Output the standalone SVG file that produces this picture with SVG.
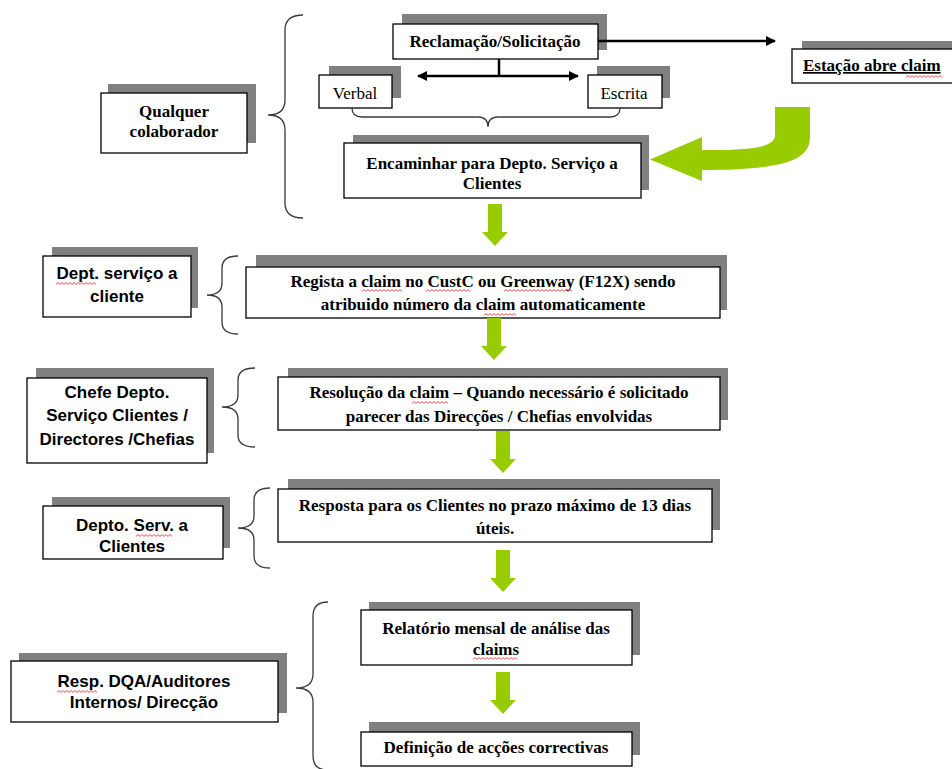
<svg xmlns="http://www.w3.org/2000/svg" width="952" height="769" viewBox="0 0 952 769">
  <style>
    .box { fill: #ffffff; stroke: #000000; stroke-width: 1.3; }
    .shadow { fill: #808080; stroke: none; }
    .serif { font-family: "Liberation Serif", "Times New Roman", serif; font-size: 17px; font-weight: bold; fill: #000000; text-anchor: middle; }
    .serif.plain { font-weight: normal; }
    .sans { font-family: "Liberation Sans", Arial, sans-serif; font-size: 17px; font-weight: bold; fill: #000000; text-anchor: middle; }
    .brace { fill: none; stroke: #3a3a3a; stroke-width: 1.3; }
    .line { fill: none; stroke: #000000; stroke-width: 2.5; }
    .green { fill: #99cc00; stroke: none; }
    .wavy { fill: url(#wave); }
  </style>
  <defs>
    <marker id="head" viewBox="0 0 10 10" refX="9" refY="5" markerWidth="4" markerHeight="4" orient="auto-start-reverse">
      <path d="M0,0 L10,5 L0,10 Z" fill="#000000"/>
    </marker>
    <!-- block arrow pointing down, origin at top centre -->
    <path id="down" d="M-7,0 L7,0 L7,28 L13,28 L0,42 L-13,28 L-7,28 Z"/>
    <!-- red spell-check wave -->
    <pattern id="wave" patternUnits="userSpaceOnUse" width="4" height="3">
      <polyline points="0,2.4 2,0.6 4,2.4" fill="none" stroke="#e02020" stroke-width="0.8"/>
    </pattern>
  </defs>

  <!-- role boxes (left column) -->
  <g id="qualquer">
    <rect class="shadow" x="108" y="84" width="148" height="59"/>
    <rect class="box" x="101" y="93" width="146" height="60"/>
    <text class="serif" x="174" y="117">Qualquer</text>
    <text class="serif" x="174" y="137">colaborador</text>
  </g>
  <g id="dept-servico">
    <rect class="shadow" x="52" y="247" width="146" height="61"/>
    <rect class="box" x="43" y="256" width="148" height="61"/>
    <text class="sans" x="117" y="279">Dept. serviço a</text>
    <text class="sans" x="117" y="302">cliente</text>
    <rect class="wavy" x="0" y="0" width="40" height="3" transform="translate(56,282)"/>
  </g>
  <g id="chefe">
    <rect class="shadow" x="36" y="368" width="178" height="85"/>
    <rect class="box" x="27" y="378" width="180" height="85"/>
    <text class="sans" x="117" y="398">Chefe Depto.</text>
    <text class="sans" x="117" y="421">Serviço Clientes /</text>
    <text class="sans" x="117" y="445">Directores /Chefias</text>
  </g>
  <g id="depto-serv">
    <rect class="shadow" x="52" y="497" width="178" height="51"/>
    <rect class="box" x="43" y="506" width="180" height="53"/>
    <text class="sans" x="132" y="531">Depto. Serv. a</text>
    <text class="sans" x="132" y="552">Clientes</text>
    <rect class="wavy" x="0" y="0" width="36" height="3" transform="translate(136,534)"/>
  </g>
  <g id="resp-dqa">
    <rect class="shadow" x="19" y="653" width="268" height="60"/>
    <rect class="box" x="11" y="661" width="267" height="61"/>
    <text class="sans" x="144" y="687">Resp. DQA/Auditores</text>
    <text class="sans" x="144" y="708">Internos/ Direcção</text>
    <rect class="wavy" x="0" y="0" width="40" height="3" transform="translate(57,690)"/>
  </g>

  <!-- process boxes -->
  <g id="reclamacao">
    <rect class="shadow" x="402" y="14" width="205" height="36"/>
    <rect class="box" x="393" y="24" width="205" height="35"/>
    <text class="serif" x="495" y="47">Reclamação/Solicitação</text>
  </g>
  <g id="verbal">
    <rect class="shadow" x="329" y="66" width="72" height="32"/>
    <rect class="box" x="319" y="75" width="73" height="33"/>
    <text class="serif plain" x="355" y="99">Verbal</text>
  </g>
  <g id="escrita">
    <rect class="shadow" x="597" y="66" width="73" height="32"/>
    <rect class="box" x="588" y="75" width="74" height="33"/>
    <text class="serif plain" x="624" y="99">Escrita</text>
  </g>
  <g id="estacao">
    <rect class="shadow" x="802" y="41" width="160" height="34"/>
    <rect class="box" x="792" y="49" width="170" height="34"/>
    <text class="serif" x="803" y="71" style="text-anchor:start" text-decoration="underline">Estação abre claim</text>
    <rect class="wavy" x="0" y="0" width="36" height="3" transform="translate(906,75)"/>
  </g>
  <g id="encaminhar">
    <rect class="shadow" x="353" y="135" width="296" height="55"/>
    <rect class="box" x="344" y="143" width="297" height="55"/>
    <text class="serif" x="492" y="169">Encaminhar para Depto. Serviço a</text>
    <text class="serif" x="492" y="189">Clientes</text>
  </g>
  <g id="regista">
    <rect class="shadow" x="256" y="255" width="471" height="55"/>
    <rect class="box" x="246" y="267" width="474" height="51"/>
    <text class="serif" x="483" y="287">Regista a claim no CustC ou Greenway (F12X) sendo</text>
    <text class="serif" x="483" y="310">atribuido número da claim automaticamente</text>
    <rect class="wavy" x="0" y="0" width="40" height="3" transform="translate(362,289)"/>
    <rect class="wavy" x="0" y="0" width="44" height="3" transform="translate(426,289)"/>
    <rect class="wavy" x="0" y="0" width="68" height="3" transform="translate(504,289)"/>
    <rect class="wavy" x="0" y="0" width="32" height="3" transform="translate(484,313)"/>
  </g>
  <g id="resolucao">
    <rect class="shadow" x="288" y="368" width="440" height="52"/>
    <rect class="box" x="278" y="377" width="442" height="53"/>
    <text class="serif" x="499" y="398">Resolução da claim – Quando necessário é solicitado</text>
    <text class="serif" x="499" y="422">parecer das Direcções / Chefias envolvidas</text>
    <rect class="wavy" x="0" y="0" width="36" height="3" transform="translate(412,401)"/>
  </g>
  <g id="resposta">
    <rect class="shadow" x="288" y="479" width="432" height="51"/>
    <rect class="box" x="278" y="489" width="434" height="53"/>
    <text class="serif" x="495" y="511">Resposta para os Clientes no prazo máximo de 13 dias</text>
    <text class="serif" x="495" y="534">úteis.</text>
  </g>
  <g id="relatorio">
    <rect class="shadow" x="369" y="602" width="271" height="53"/>
    <rect class="box" x="361" y="610" width="271" height="55"/>
    <text class="serif" x="496" y="634">Relatório mensal de análise das</text>
    <text class="serif" x="496" y="655">claims</text>
    <rect class="wavy" x="0" y="0" width="44" height="3" transform="translate(473,657)"/>
  </g>
  <g id="definicao">
    <rect class="shadow" x="369" y="722" width="271" height="33"/>
    <rect class="box" x="361" y="732" width="271" height="34"/>
    <text class="serif" x="496" y="753">Definição de acções correctivas</text>
  </g>

  <!-- connectors: braces, line arrows, block arrows -->
  <g id="connectors">
    <path class="brace" d="M303,15 Q285,15 285,30 L285,100 Q285,115 268,115 Q285,115 285,130 L285,203 Q285,218 303,218"/>
    <path class="brace" d="M352,108 Q352,117 362,117 L478,117 Q488,117 488,127 Q488,117 498,117 L610,117 Q620,117 620,108"/>
    <path class="brace" d="M238,256 Q222,256 222,268 L222,283 Q222,295 207,295 Q222,295 222,307 L222,322 Q222,334 238,334"/>
    <path class="brace" d="M255,368 Q238,368 238,380 L238,395 Q238,407 222,407 Q238,407 238,419 L238,435 Q238,447 255,447"/>
    <path class="brace" d="M270,488 Q254,488 254,500 L254,516 Q254,528 238,528 Q254,528 254,540 L254,556 Q254,568 270,568"/>
    <path class="brace" d="M328,602 Q313,602 313,616 L313,674 Q313,688 296,688 Q313,688 313,702 L313,756 Q313,770 328,770"/>

    <line class="line" x1="598" y1="41" x2="775" y2="41" marker-end="url(#head)"/>
    <line class="line" x1="499" y1="59" x2="499" y2="76"/>
    <line class="line" x1="418" y1="76" x2="578" y2="76" marker-start="url(#head)" marker-end="url(#head)"/>

    <path class="green" d="M775,107 L810,107 L810,137 C810,160 785,170 702,170 L702,181 L650,159.5 L702,137 L702,150 C750,150 775,148 775,135 Z"/>
    <use href="#down" class="green" x="495" y="204"/>
    <use href="#down" class="green" x="494" y="318"/>
    <use href="#down" class="green" x="503" y="431"/>
    <use href="#down" class="green" x="503" y="550"/>
    <use href="#down" class="green" x="503" y="672"/>
  </g>
</svg>
